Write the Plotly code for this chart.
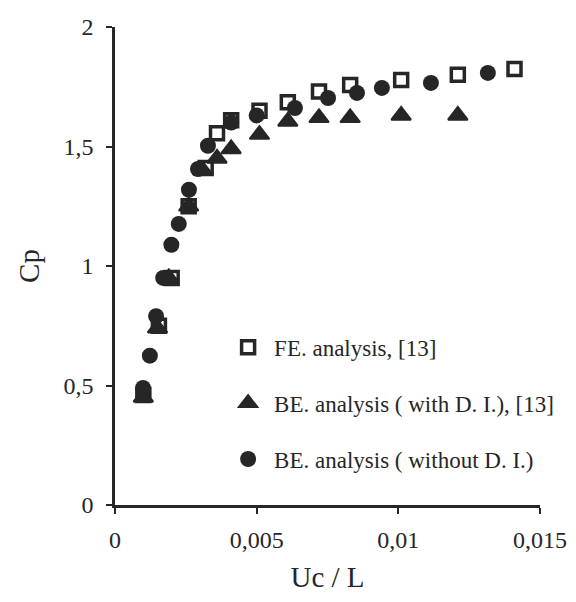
import plotly.graph_objects as go

# ---- data ----
fe_x = [0.0010, 0.00155, 0.0020, 0.0026, 0.0032, 0.0036, 0.0041, 0.0051, 0.0061,
        0.0072, 0.0083, 0.0101, 0.0121, 0.0141]
fe_y = [0.46, 0.75, 0.95, 1.25, 1.41, 1.555, 1.61, 1.65, 1.685,
        1.73, 1.757, 1.778, 1.80, 1.824]

be_di_x = [0.0010, 0.0015, 0.0019, 0.0026, 0.0031, 0.0036, 0.0041, 0.0051, 0.0061,
           0.0072, 0.0083, 0.0101, 0.0121]
be_di_y = [0.45, 0.74, 0.95, 1.25, 1.40, 1.45, 1.49, 1.55, 1.605,
           1.62, 1.62, 1.63, 1.63]

be_x = [0.00099, 0.00123, 0.00145, 0.0017, 0.00199, 0.00225, 0.00261, 0.00293,
        0.00328, 0.0041, 0.0050, 0.00635, 0.00752, 0.00854, 0.00942, 0.01115, 0.01316]
be_y = [0.49, 0.625, 0.79, 0.95, 1.089, 1.176, 1.319, 1.406,
        1.503, 1.60, 1.63, 1.661, 1.703, 1.724, 1.745, 1.766, 1.808]

names = ["FE. analysis, [13]",
         "BE. analysis ( with D. I.), [13]",
         "BE. analysis ( without D. I.)"]

x_tickvals = [0, 0.005, 0.01, 0.015]
x_ticktext = ["0", "0,005", "0,01", "0,015"]
y_tickvals = [0, 0.5, 1, 1.5, 2]
y_ticktext = ["0", "0,5", "1", "1,5", "2"]

INK = "#262626"
FONT = "Liberation Serif"

fig = go.Figure()
fig.add_trace(go.Scatter(
    x=fe_x, y=fe_y, mode="markers", name=names[0], legendgroup="a",
    marker=dict(symbol="square-open", size=13, color=INK,
                line=dict(width=3.5, color=INK))))
fig.add_trace(go.Scatter(
    x=be_di_x, y=be_di_y, mode="markers", name=names[1], legendgroup="b",
    marker=dict(symbol="triangle-up", size=17, color=INK,
                line=dict(width=2, color=INK))))
fig.add_trace(go.Scatter(
    x=be_x, y=be_y, mode="markers", name=names[2], legendgroup="c",
    marker=dict(symbol="circle", size=16, color=INK,
                line=dict(width=0, color=INK))))

fig.update_layout(
    width=576, height=602,
    margin=dict(l=107, r=44, t=19, b=105, autoexpand=False),
    paper_bgcolor="white", plot_bgcolor="white",
    font=dict(family=FONT, size=23, color=INK),
    showlegend=True,
    legend=dict(x=0.252, y=0.375, xanchor="left", yanchor="top",
                bgcolor="rgba(0,0,0,0)", tracegroupgap=23, itemwidth=42,
                font=dict(family=FONT, size=23, color=INK)),
    xaxis=dict(range=[0, 0.015], tickvals=x_tickvals, ticktext=x_ticktext,
               showgrid=False, zeroline=False, showline=True, linewidth=2.5,
               linecolor=INK, ticks="outside", ticklen=6, tickwidth=2,
               tickcolor=INK, tickfont=dict(size=24), ticklabelstandoff=5,
               automargin=False,
               title=dict(text="Uc / L", font=dict(size=29), standoff=16)),
    yaxis=dict(range=[0, 2], tickvals=y_tickvals, ticktext=y_ticktext,
               showgrid=False, zeroline=False, showline=True, linewidth=2.5,
               linecolor=INK, ticks="outside", ticklen=6, tickwidth=2,
               tickcolor=INK, tickfont=dict(size=24), ticklabelstandoff=8,
               automargin=False,
               title=dict(text="Cp", font=dict(size=29), standoff=16)),
)

fig.write_html("out.html")
